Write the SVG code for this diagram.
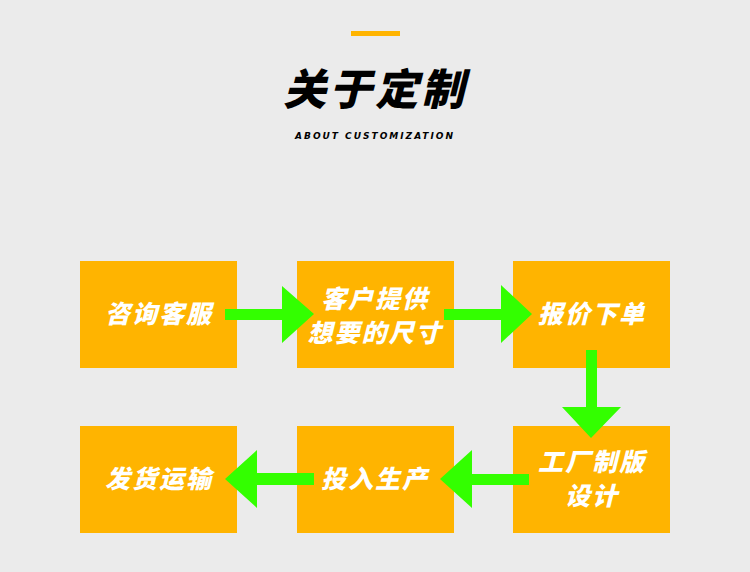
<svg xmlns="http://www.w3.org/2000/svg" width="750" height="572" viewBox="0 0 750 572">
<style>
.box{fill:#ffb400}
.t{fill:#ffffff;font-family:"Noto Sans CJK SC","Noto Sans",sans-serif;font-weight:900;font-style:italic;font-size:25px;letter-spacing:2px;text-anchor:middle;dominant-baseline:central}
.arr{fill:#33ff00}
</style>
<rect width="750" height="572" fill="#ebebeb"/>
<g id="header">
<rect x="351" y="31" width="49" height="5" fill="#ffb400"/>
<text x="375" y="86" font-family="'Noto Sans CJK SC',sans-serif" font-weight="900" font-style="italic" font-size="43" letter-spacing="3" text-anchor="middle" dominant-baseline="central" fill="#000">关于定制</text>
<text x="375" y="136" font-family="'DejaVu Sans',sans-serif" font-weight="bold" font-style="italic" font-size="9" letter-spacing="2" text-anchor="middle" dominant-baseline="central" fill="#000">ABOUT CUSTOMIZATION</text>
</g>
<g id="n1"><rect class="box" x="80" y="261" width="157" height="107"/><text class="t" x="159" y="312">咨询客服</text></g>
<g id="n2"><rect class="box" x="297" y="261" width="157" height="107"/><text class="t" x="375" y="297">客户提供</text><text class="t" x="375" y="331">想要的尺寸</text></g>
<g id="n3"><rect class="box" x="513" y="261" width="157" height="107"/><text class="t" x="592" y="312">报价下单</text></g>
<g id="n4"><rect class="box" x="513" y="426" width="157" height="107"/><text class="t" x="592" y="460">工厂制版</text><text class="t" x="592" y="494">设计</text></g>
<g id="n5"><rect class="box" x="297" y="426" width="157" height="107"/><text class="t" x="375" y="477">投入生产</text></g>
<g id="n6"><rect class="box" x="80" y="426" width="157" height="107"/><text class="t" x="159" y="477">发货运输</text></g>
<g id="connectors">
<polygon class="arr" points="225,309 282,309 282,286 314,314 282,343 282,320 225,320"/>
<polygon class="arr" points="444,309 501,309 501,285 532,314 501,343 501,320 444,320"/>
<polygon class="arr" points="586,350 597,350 597,407 621,407 591,438 562,407 586,407"/>
<polygon class="arr" points="529,474 472,474 472,450 440,479 472,508 472,485 529,485"/>
<polygon class="arr" points="314,473 257,473 257,450 225,479 257,508 257,485 314,485"/>
</g>
</svg>
